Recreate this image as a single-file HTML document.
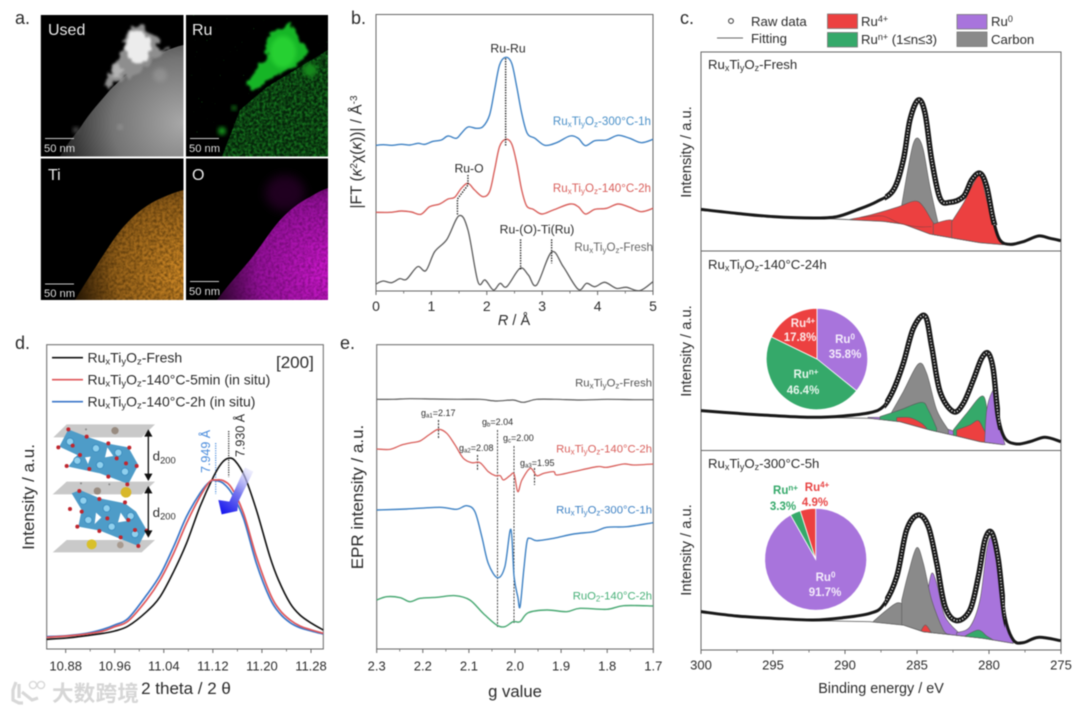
<!DOCTYPE html>
<html lang="en">
<head>
<meta charset="utf-8">
<title>Ru-Ti oxide characterization figure</title>
<style>
html,body{margin:0;padding:0;background:#fff;width:1080px;height:713px;overflow:hidden}
svg{display:block;filter:blur(0.45px)}
text{font-family:"Liberation Sans","Noto Sans CJK SC",sans-serif;fill:#2b2b2b}
</style>
</head>
<body>
<svg id="fig" xmlns="http://www.w3.org/2000/svg" width="1080" height="713" viewBox="0 0 1080 713">
<defs>
  <filter id="soft" x="-30%" y="-30%" width="160%" height="160%"><feGaussianBlur stdDeviation="2"/></filter>
  <filter id="soft2" x="-30%" y="-30%" width="160%" height="160%"><feGaussianBlur stdDeviation="5"/></filter>
  <filter id="rough" x="-30%" y="-30%" width="160%" height="160%">
    <feTurbulence type="fractalNoise" baseFrequency="0.14" numOctaves="2" seed="7" result="t"/>
    <feDisplacementMap in="SourceGraphic" in2="t" scale="11" xChannelSelector="R" yChannelSelector="G"/>
    <feGaussianBlur stdDeviation="1.1"/>
  </filter>
  <filter id="greyNoise" x="0" y="0" width="100%" height="100%">
    <feTurbulence type="fractalNoise" baseFrequency="0.35" numOctaves="2" seed="4"/>
    <feColorMatrix values="0 0 0 0 0  0 0 0 0 0  0 0 0 0 0  1.8 0 0 0 -0.6"/>
    <feComposite in="SourceGraphic" operator="in"/>
  </filter>
  <filter id="sparse" x="0" y="0" width="100%" height="100%">
    <feTurbulence type="fractalNoise" baseFrequency="0.6" numOctaves="1" seed="9"/>
    <feColorMatrix values="0 0 0 0 0  0 0 0 0 0  0 0 0 0 0  9 0 0 0 -6.7"/>
    <feComposite in="SourceGraphic" operator="in"/>
  </filter>
  <radialGradient id="hadf" cx="1" cy="0.7" r="1.05"><stop offset="0" stop-color="#a8a8a8"/><stop offset="0.55" stop-color="#747474"/><stop offset="1" stop-color="#1c1c1c"/></radialGradient>
  <radialGradient id="tiGrad" cx="1" cy="0.75" r="1.05"><stop offset="0" stop-color="#d08a26"/><stop offset="0.6" stop-color="#96621a"/><stop offset="1" stop-color="#1c1003"/></radialGradient>
  <radialGradient id="oGrad" cx="1" cy="0.75" r="1.05"><stop offset="0" stop-color="#cc18cc"/><stop offset="0.6" stop-color="#94119a"/><stop offset="1" stop-color="#200420"/></radialGradient>
  <linearGradient id="arrowGrad" x1="0.8" y1="0" x2="0.2" y2="1"><stop offset="0" stop-color="#dcdcfa" stop-opacity="0.5"/><stop offset="0.5" stop-color="#7878ee"/><stop offset="1" stop-color="#1a1aee"/></linearGradient>
  <clipPath id="clipUsed"><rect x="40.7" y="15" width="142.8" height="141.5"/></clipPath>
  <clipPath id="clipRu"><rect x="186" y="15" width="142" height="141.5"/></clipPath>
  <clipPath id="clipTi"><rect x="40.7" y="158.5" width="142.8" height="141.5"/></clipPath>
  <clipPath id="clipO"><rect x="186" y="158.5" width="142" height="141.5"/></clipPath>
  <clipPath id="peakZone1"><rect x="885" y="90" width="115" height="135"/></clipPath>
  <clipPath id="peakZone2"><rect x="885" y="305" width="115" height="125"/></clipPath>
  <clipPath id="peakZone3"><rect x="885" y="505" width="120" height="125"/></clipPath>
</defs>
<rect x="0" y="0" width="1080" height="713" fill="#fff"/>

<!-- PANEL A -->
<g>
  <text x="15" y="24" font-size="18">a.</text>
  <g clip-path="url(#clipUsed)">
    <rect x="40.7" y="15" width="142.8" height="141.5" fill="#000"/>
    <path d="M60,156.5 C68,142 75,135 80,128 C90,112 100,102 110,90 C122,78 132,70 143,63 C158,54 170,48 183.5,45 L183.5,156.5 Z" fill="url(#hadf)"/>
    <circle cx="120" cy="127" r="2.5" fill="#b8b8b8" filter="url(#soft)" opacity="0.5"/>
    <circle cx="160" cy="75" r="7" fill="#b0b0b0" filter="url(#soft)" opacity="0.35"/>
    <path d="M105,86 L112,65 L122,52 L123,35 L140,24 L156,36 L160,50 L168,50 L150,65 L125,80 Z" fill="#8e8e8e" filter="url(#rough)"/>
    <ellipse cx="138" cy="47" rx="13" ry="16" fill="#ececec" filter="url(#rough)"/>
    <circle cx="118" cy="72" r="6" fill="#b4b4b4" filter="url(#rough)"/>
    <circle cx="76" cy="130" r="3" fill="#555" filter="url(#soft)"/>
  </g>
  <g clip-path="url(#clipRu)">
    <rect x="186" y="15" width="142" height="141.5" fill="#000"/>
    <rect x="186" y="15" width="142" height="141.5" fill="#1a9624" filter="url(#sparse)"/>
    <path d="M222,156.5 L240,110 L267,87 L300,67 L328,50 L328,156.5 Z" fill="#06240a"/>
    <path d="M222,156.5 L240,110 L267,87 L300,67 L328,50 L328,156.5 Z" fill="#1a8a24" filter="url(#greyNoise)"/>
    <path d="M248,87 L253,72 L267,57 L267,37 L290,23 L300,43 L310,50 L300,63 L277,75 L257,88 Z" fill="#19b525" filter="url(#rough)"/>
    <ellipse cx="283" cy="52" rx="13" ry="16" fill="#28d033" filter="url(#soft)"/>
    <circle cx="310" cy="70" r="7" fill="#148a1c" filter="url(#soft)"/>
    <circle cx="222" cy="131" r="4" fill="#129a1c" filter="url(#soft)"/>
    <circle cx="234" cy="108" r="2.5" fill="#148a1c" filter="url(#soft)"/>
  </g>
  <g clip-path="url(#clipTi)">
    <rect x="40.7" y="158.5" width="142.8" height="141.5" fill="#000"/>
    <path d="M75,300 C84,285 92,273 100,260 C110,245 118,232 127,223 C137,212 147,205 157,200 C166,196 175,192 183.5,190 L183.5,300 Z" fill="url(#tiGrad)"/>
    <path d="M75,300 C84,285 92,273 100,260 C110,245 118,232 127,223 C137,212 147,205 157,200 C166,196 175,192 183.5,190 L183.5,300 Z" fill="#2c1a04" filter="url(#greyNoise)" opacity="0.6"/>
  </g>
  <g clip-path="url(#clipO)">
    <rect x="186" y="158.5" width="142" height="141.5" fill="#000"/>
    <ellipse cx="285" cy="193" rx="20" ry="18" fill="#3a063a" filter="url(#soft2)" opacity="0.55"/>
    <path d="M217,300 C228,285 240,272 250,260 C262,245 272,228 283,217 C292,208 300,202 310,197 C316,193 322,190 328,188 L328,300 Z" fill="url(#oGrad)"/>
    <path d="M217,300 C228,285 240,272 250,260 C262,245 272,228 283,217 C292,208 300,202 310,197 C316,193 322,190 328,188 L328,300 Z" fill="#40063f" filter="url(#greyNoise)" opacity="0.5"/>
  </g>
  <g font-size="16">
    <text x="48" y="35" style="fill:#e8e8e8">Used</text>
    <text x="192" y="35" style="fill:#e8e8e8">Ru</text>
    <text x="48" y="180" style="fill:#e8e8e8">Ti</text>
    <text x="192" y="180" style="fill:#e8e8e8">O</text>
  </g>
  <g stroke="#c8c8c8" stroke-width="0.9">
    <line x1="45" x2="74" y1="138.5" y2="138.5"/>
    <line x1="190" x2="219" y1="138.5" y2="138.5"/>
    <line x1="45" x2="74" y1="284" y2="284"/>
    <line x1="190" x2="219" y1="281.5" y2="281.5"/>
  </g>
  <g font-size="11.2">
    <text x="44" y="152" style="fill:#ddd">50 nm</text>
    <text x="189" y="152" style="fill:#ddd">50 nm</text>
    <text x="44" y="297" style="fill:#ddd">50 nm</text>
    <text x="189" y="295" style="fill:#ddd">50 nm</text>
  </g>
</g>

<!-- PANEL B -->
<g id="panelB">
  <text x="351" y="24" font-size="18">b.</text>
  <rect x="376" y="14.5" width="277" height="276.5" fill="none" stroke="#666" stroke-width="1"/>
  <text transform="translate(361.5,152) rotate(-90)" text-anchor="middle" font-size="15.5">|FT (<tspan font-style="italic">κ</tspan><tspan dy="-4.5" font-size="10">2</tspan><tspan dy="4.5">χ(</tspan><tspan font-style="italic">κ</tspan>))| / Å<tspan dy="-4.5" font-size="10">-3</tspan></text>
  <text x="514" y="325" text-anchor="middle" font-size="14.5"><tspan font-style="italic">R</tspan> / Å</text>
  <g font-size="12.2" text-anchor="middle">
    <text x="508" y="52.5">Ru-Ru</text>
    <text x="469" y="172.5">Ru-O</text>
    <text x="537" y="233.5">Ru-(O)-Ti(Ru)</text>
  </g>
  <g font-size="11.6" text-anchor="end">
    <text x="651" y="125" style="fill:#4a90c8">Ru<tspan dy="2" font-size="8">x</tspan><tspan dy="-2">Ti</tspan><tspan dy="2" font-size="8">y</tspan><tspan dy="-2">O</tspan><tspan dy="2" font-size="8">z</tspan><tspan dy="-2">-300°C-1h</tspan></text>
    <text x="651" y="192" style="fill:#d9605c">Ru<tspan dy="2" font-size="8">x</tspan><tspan dy="-2">Ti</tspan><tspan dy="2" font-size="8">y</tspan><tspan dy="-2">O</tspan><tspan dy="2" font-size="8">z</tspan><tspan dy="-2">-140°C-2h</tspan></text>
    <text x="653" y="251" style="fill:#666">Ru<tspan dy="2" font-size="8">x</tspan><tspan dy="-2">Ti</tspan><tspan dy="2" font-size="8">y</tspan><tspan dy="-2">O</tspan><tspan dy="2" font-size="8">z</tspan><tspan dy="-2">-Fresh</tspan></text>
  </g>
</g>

<!-- PANEL C -->
<g id="panelC">
  <text x="680" y="24" font-size="18">c.</text>
  <g font-size="13.2">
    <circle cx="731" cy="21" r="2.4" fill="none" stroke="#333" stroke-width="1"/>
    <text x="751" y="26">Raw data</text>
    <line x1="717" x2="743" y1="38" y2="38" stroke="#666" stroke-width="1.1"/>
    <text x="751" y="43">Fitting</text>
    <rect x="827.5" y="14" width="30" height="14.5" fill="#ec4040" stroke="#777" stroke-width="0.8"/>
    <text x="861" y="26">Ru<tspan dy="-4" font-size="9">4+</tspan></text>
    <rect x="827.5" y="32.5" width="30" height="14.5" fill="#35a96a" stroke="#777" stroke-width="0.8"/>
    <text x="861" y="44">Ru<tspan dy="-4" font-size="9">n+</tspan><tspan dy="4"> (1≤n≤3)</tspan></text>
    <rect x="957" y="14.5" width="30" height="14.5" fill="#a874dc" stroke="#777" stroke-width="0.8"/>
    <text x="991" y="26">Ru<tspan dy="-4" font-size="9">0</tspan></text>
    <rect x="957" y="32" width="30" height="14.5" fill="#8a8a8a" stroke="#777" stroke-width="0.8"/>
    <text x="991" y="44">Carbon</text>
  </g>
  <rect x="701" y="52" width="360" height="598" fill="none" stroke="#666" stroke-width="1"/>
  <line x1="701" x2="1061" y1="251" y2="251" stroke="#666" stroke-width="1"/>
  <line x1="701" x2="1061" y1="450.5" y2="450.5" stroke="#666" stroke-width="1"/>
  <g font-size="13.2">
    <text x="708" y="69">Ru<tspan dy="2" font-size="9">x</tspan><tspan dy="-2">Ti</tspan><tspan dy="2" font-size="9">y</tspan><tspan dy="-2">O</tspan><tspan dy="2" font-size="9">z</tspan><tspan dy="-2">-Fresh</tspan></text>
    <text x="708" y="269">Ru<tspan dy="2" font-size="9">x</tspan><tspan dy="-2">Ti</tspan><tspan dy="2" font-size="9">y</tspan><tspan dy="-2">O</tspan><tspan dy="2" font-size="9">z</tspan><tspan dy="-2">-140°C-24h</tspan></text>
    <text x="708" y="468">Ru<tspan dy="2" font-size="9">x</tspan><tspan dy="-2">Ti</tspan><tspan dy="2" font-size="9">y</tspan><tspan dy="-2">O</tspan><tspan dy="2" font-size="9">z</tspan><tspan dy="-2">-300°C-5h</tspan></text>
  </g>
  <g font-size="14.7" text-anchor="middle">
    <text transform="translate(691,152) rotate(-90)">Intensity / a.u.</text>
    <text transform="translate(691,351) rotate(-90)">Intensity / a.u.</text>
    <text transform="translate(691,550) rotate(-90)">Intensity / a.u.</text>
  </g>
  <text x="881" y="693" text-anchor="middle" font-size="14.4">Binding energy / eV</text>
</g>
<g id="pieLayer"></g>
<g font-size="11.5" font-weight="bold" text-anchor="middle">
  <text x="803" y="327" style="fill:#fde8e8">Ru<tspan dy="-3.5" font-size="8">4+</tspan></text>
  <text x="800" y="341" style="fill:#fde8e8">17.8%</text>
  <text x="845" y="343" style="fill:#f4ecfb">Ru<tspan dy="-3.5" font-size="8">0</tspan></text>
  <text x="845" y="358" style="fill:#f4ecfb">35.8%</text>
  <text x="806" y="378" style="fill:#e6f6ec">Ru<tspan dy="-3.5" font-size="8">n+</tspan></text>
  <text x="803" y="394" style="fill:#e6f6ec">46.4%</text>
  <text x="785.5" y="494" style="fill:#35a96a">Ru<tspan dy="-3.5" font-size="8">n+</tspan></text>
  <text x="783" y="510" style="fill:#35a96a">3.3%</text>
  <text x="817" y="491" style="fill:#e84444">Ru<tspan dy="-3.5" font-size="8">4+</tspan></text>
  <text x="815" y="506" style="fill:#e84444">4.9%</text>
  <text x="825.5" y="581" style="fill:#f4ecfb">Ru<tspan dy="-3.5" font-size="8">0</tspan></text>
  <text x="825" y="596" style="fill:#f4ecfb">91.7%</text>
</g>

<!-- PANEL D -->
<g id="panelD">
  <text x="15" y="349" font-size="18">d.</text>
  <rect x="46.7" y="344.7" width="276.6" height="304.3" fill="none" stroke="#666" stroke-width="1"/>
  <g font-size="14">
    <line x1="52" x2="83" y1="357.7" y2="357.7" stroke="#111" stroke-width="1.6"/>
    <text x="87.5" y="362.5">Ru<tspan dy="2" font-size="9.5">x</tspan><tspan dy="-2">Ti</tspan><tspan dy="2" font-size="9.5">y</tspan><tspan dy="-2">O</tspan><tspan dy="2" font-size="9.5">z</tspan><tspan dy="-2">-Fresh</tspan></text>
    <line x1="52" x2="83" y1="379.7" y2="379.7" stroke="#e0565a" stroke-width="1.6"/>
    <text x="87.5" y="384.5">Ru<tspan dy="2" font-size="9.5">x</tspan><tspan dy="-2">Ti</tspan><tspan dy="2" font-size="9.5">y</tspan><tspan dy="-2">O</tspan><tspan dy="2" font-size="9.5">z</tspan><tspan dy="-2">-140°C-5min (in situ)</tspan></text>
    <line x1="52" x2="83" y1="401.7" y2="401.7" stroke="#3a76c8" stroke-width="1.6"/>
    <text x="87.5" y="406.5">Ru<tspan dy="2" font-size="9.5">x</tspan><tspan dy="-2">Ti</tspan><tspan dy="2" font-size="9.5">y</tspan><tspan dy="-2">O</tspan><tspan dy="2" font-size="9.5">z</tspan><tspan dy="-2">-140°C-2h (in situ)</tspan></text>
  </g>
  <text x="276" y="368" font-size="17">[200]</text>
  <text transform="translate(34,497) rotate(-90)" text-anchor="middle" font-size="17">Intensity / a.u.</text>
  <text x="186" y="694" text-anchor="middle" font-size="17">2 theta / 2 θ</text>
  <!-- crystal inset -->
  <g transform="translate(0,330) scale(0.33333)">
    <polygon points="160,322 200,283 465,283 425,322" fill="#c9c9c9"/>
    <polygon points="158,493 200,455 465,455 425,493" fill="#c9c9c9"/>
    <polygon points="158,667 200,630 465,630 425,667" fill="#c9c9c9"/>
    <polygon points="178,350 205,298 260,320 320,340 385,352 415,405 385,462 300,430 205,410 232,375" fill="#4e9cc8"/>
    <polygon points="215,490 240,480 300,505 375,520 408,545 440,600 415,648 300,602 235,590 245,540" fill="#4e9cc8"/>
    <polygon points="255,382 272,380 264,402" fill="#fff"/>
    <polygon points="322,352 340,378 315,382" fill="#fff"/>
    <polygon points="288,548 304,562 284,582" fill="#fff"/>
    <polygon points="362,548 380,573 354,577" fill="#fff"/>
    <g fill="#8fd0ee" stroke="#3f8fc0" stroke-width="3">
      <circle cx="210" cy="335" r="11"/><circle cx="288" cy="355" r="11"/><circle cx="355" cy="368" r="11"/><circle cx="232" cy="392" r="11"/><circle cx="300" cy="405" r="11"/><circle cx="375" cy="425" r="11"/>
      <circle cx="250" cy="512" r="11"/><circle cx="320" cy="535" r="11"/><circle cx="392" cy="558" r="11"/><circle cx="265" cy="570" r="11"/><circle cx="335" cy="590" r="11"/><circle cx="405" cy="612" r="11"/>
    </g>
    <g fill="#c0262e">
      <circle cx="205" cy="298" r="6"/><circle cx="175" cy="352" r="6"/><circle cx="260" cy="320" r="6"/><circle cx="325" cy="340" r="6"/><circle cx="218" cy="347" r="6"/><circle cx="388" cy="353" r="6"/><circle cx="240" cy="375" r="6"/><circle cx="350" cy="385" r="6"/><circle cx="200" cy="408" r="6"/><circle cx="268" cy="417" r="6"/><circle cx="325" cy="440" r="6"/><circle cx="378" cy="400" r="6"/><circle cx="410" cy="408" r="6"/><circle cx="382" cy="463" r="6"/>
      <circle cx="238" cy="483" r="6"/><circle cx="298" cy="507" r="6"/><circle cx="210" cy="537" r="6"/><circle cx="375" cy="517" r="6"/><circle cx="245" cy="545" r="6"/><circle cx="322" cy="565" r="6"/><circle cx="385" cy="570" r="6"/><circle cx="232" cy="590" r="6"/><circle cx="298" cy="603" r="6"/><circle cx="405" cy="600" r="6"/><circle cx="362" cy="622" r="6"/><circle cx="440" cy="602" r="6"/><circle cx="415" cy="648" r="6"/>
    </g>
    <g>
      <circle cx="378" cy="487" r="16" fill="#d8b82a"/><circle cx="275" cy="643" r="15" fill="#d8c02a"/>
      <circle cx="345" cy="302" r="11" fill="#988b80"/><circle cx="292" cy="483" r="11" fill="#988b80"/><circle cx="361" cy="645" r="10" fill="#a89b90"/>
      <circle cx="258" cy="298" r="3" fill="#888"/><circle cx="243" cy="460" r="3" fill="#888"/><circle cx="328" cy="463" r="3" fill="#888"/>
    </g>
    <g stroke="#111" stroke-width="4" fill="#111">
      <line x1="445" x2="445" y1="312" y2="440"/>
      <polygon points="445,302 436,318 454,318"/><polygon points="445,449 436,433 454,433"/>
      <line x1="445" x2="445" y1="482" y2="610"/>
      <polygon points="445,472 436,488 454,488"/><polygon points="445,619 436,603 454,603"/>
    </g>
    <text x="458" y="392" font-size="40">d<tspan dy="8" font-size="28">200</tspan></text>
    <text x="458" y="561" font-size="40">d<tspan dy="8" font-size="28">200</tspan></text>
  </g>
  <text transform="translate(210,473) rotate(-90)" font-size="12.5" style="fill:#4a8cdc">7.949 Å</text>
  <text transform="translate(244.5,457) rotate(-90)" font-size="12.5">7.930 Å</text>
  <line x1="215.7" x2="215.7" y1="443" y2="494" stroke="#4a8cdc" stroke-width="1.2" stroke-dasharray="1.2 1.2"/>
  <line x1="228.7" x2="228.7" y1="431" y2="477" stroke="#222" stroke-width="1.2" stroke-dasharray="1.2 1.2"/>
</g>
<polygon transform="translate(0,330) scale(0.33333)" points="735,412 760,425 715,515 712,543 665,553 655,510 688,515" fill="url(#arrowGrad)"/>

<!-- PANEL E -->
<g id="panelE">
  <text x="340" y="349" font-size="18">e.</text>
  <rect x="376.7" y="344.7" width="276.6" height="304.3" fill="none" stroke="#666" stroke-width="1"/>
  <text transform="translate(363,497) rotate(-90)" text-anchor="middle" font-size="17">EPR intensity / a.u.</text>
  <text x="515" y="697" text-anchor="middle" font-size="16.7">g value</text>
  <g font-size="11.3" text-anchor="end">
    <text x="652" y="386.5" style="fill:#555">Ru<tspan dy="2" font-size="8">x</tspan><tspan dy="-2">Ti</tspan><tspan dy="2" font-size="8">y</tspan><tspan dy="-2">O</tspan><tspan dy="2" font-size="8">z</tspan><tspan dy="-2">-Fresh</tspan></text>
    <text x="652" y="452.5" style="fill:#d9605c">Ru<tspan dy="2" font-size="8">x</tspan><tspan dy="-2">Ti</tspan><tspan dy="2" font-size="8">y</tspan><tspan dy="-2">O</tspan><tspan dy="2" font-size="8">z</tspan><tspan dy="-2">-140°C-2h</tspan></text>
    <text x="652" y="513.5" style="fill:#3f82c4">Ru<tspan dy="2" font-size="8">x</tspan><tspan dy="-2">Ti</tspan><tspan dy="2" font-size="8">y</tspan><tspan dy="-2">O</tspan><tspan dy="2" font-size="8">z</tspan><tspan dy="-2">-300°C-1h</tspan></text>
    <text x="652" y="599.5" style="fill:#48b078">RuO<tspan dy="2" font-size="8">2</tspan><tspan dy="-2">-140°C-2h</tspan></text>
  </g>
  <g font-size="9">
    <text x="421" y="416">g<tspan dy="1.5" font-size="6">a1</tspan><tspan dy="-1.5">=2.17</tspan></text>
    <text x="459" y="451">g<tspan dy="1.5" font-size="6">a2</tspan><tspan dy="-1.5">=2.08</tspan></text>
    <text x="482" y="425">g<tspan dy="1.5" font-size="6">b</tspan><tspan dy="-1.5">=2.04</tspan></text>
    <text x="503" y="441">g<tspan dy="1.5" font-size="6">c</tspan><tspan dy="-1.5">=2.00</tspan></text>
    <text x="520" y="466">g<tspan dy="1.5" font-size="6">a3</tspan><tspan dy="-1.5">=1.95</tspan></text>
  </g>
  <g stroke="#333" stroke-width="0.9" stroke-dasharray="2 1.2">
    <line x1="438.5" x2="438.5" y1="420" y2="439" stroke-width="1.1"/>
    <line x1="477.5" x2="477.5" y1="455" y2="471" stroke-width="1.1"/>
    <line x1="497.5" x2="497.5" y1="430" y2="627"/>
    <line x1="514" x2="514" y1="446" y2="623"/>
    <line x1="534.5" x2="534.5" y1="468" y2="485" stroke-width="1.1"/>
  </g>
</g>

<!-- WATERMARK -->
<g opacity="0.9">
  <path d="M16,682 L13,690 L13,700 L19,703 L23,703 M19,684 L19,698 M22,692 L32,700 L38,698" fill="none" stroke="#d4d4d4" stroke-width="3.2"/>
  <circle cx="33" cy="685" r="3.6" fill="none" stroke="#d4d4d4" stroke-width="1.4"/>
  <circle cx="41" cy="685" r="3.6" fill="none" stroke="#d4d4d4" stroke-width="1.4"/>
  <text x="52" y="701" font-size="21.5" letter-spacing="0.3" font-weight="bold" style="fill:#d2d2d2;font-family:'Liberation Sans','Noto Sans CJK SC',sans-serif">大数跨境</text>
</g>
</svg>

<script>
// ---------- Panel b: EXAFS data ----------
const bTickLabels = ['0', '1', '2', '3', '4', '5'];
const bBlueR = [0,.13,.28,.46,.61,.76,.88,1.03,1.18,1.30,1.45,1.54,1.66,1.81,1.93,2.05,2.14,2.23,2.34,2.45,2.54,2.63,2.73,2.87,3.05,3.26,3.50,3.65,3.78,3.95,4.16,4.37,4.58,4.79,5];
const bBlueI = [437,439,437,440,438,443,440,449,453,465,458,473,492,488,493,528,603,678,701,683,613,533,473,458,437,445,465,458,436,451,453,467,458,445,455];
const bRedR = [0,.25,.46,.64,.81,.97,1.15,1.30,1.42,1.54,1.66,1.78,1.93,2.05,2.14,2.23,2.34,2.45,2.54,2.63,2.72,2.84,2.99,3.20,3.50,3.65,3.78,3.95,4.16,4.37,4.58,4.79,5];
const bRedI = [236,236,240,237,230,253,261,276,281,308,323,303,283,298,363,433,455,441,383,303,255,245,231,243,261,253,231,245,248,261,251,238,248];
const bGrayR = [0,.13,.28,.43,.55,.75,.90,1.06,1.28,1.5,1.66,1.84,1.97,2.12,2.24,2.36,2.6,2.75,2.9,3.17,3.38,3.65,3.8,3.95,4.13,4.34,4.52,4.76,5];
const bGrayI = [21,30,25,37,35,73,61,118,155,226,183,28,33,3,23,13,68,48,18,117,73,5,23,13,26,8,11,1,28];
const bGuideRuRuR = [2.34, 2.34];
const bGuideRuRuI = [698, 433];
const bGuideRuOR = [1.66, 1.66, 1.47, 1.47];
const bGuideRuOI = [348, 318, 276, 228];
const bGuideMid1R = [2.61, 2.61];
const bGuideMid1I = [155, 65];
const bGuideMid2R = [3.17, 3.17];
const bGuideMid2I = [155, 83];

// ---------- Panel c: XPS data ----------
const cTickLabels = ['300', '295', '290', '285', '280', '275'];
const c1RawBE = [300,297.52,294.98,292.2,290.58,289.19,287.8,286.64,285.95,285.49,284.91,284.44,283.98,283.4,282.71,281.78,281.2,280.62,280.16,279.7,279.24,278.54,277.62,276.57,275.76,275.02];
const c1RawI = [122,110,100,96,100,120,145,180,270,390,450,410,270,155,143,160,210,230,190,90,30,17,25,42,35,28];
const c1BaseBE = [292.2,289.19,287.34,285.95,284.1,282.25,280.62,279];
const c1BaseI = [96,90,86,78,48,34,22,16];
const c1CarbonBE = [286.06,285.6,285.25,284.91,284.56,284.1,283.52];
const c1CarbonI = [135,250,320,335,300,190,78];
const c1Red1BE = [289.65,288.26,286.41,285.14,284.56,283.87,283.2];
const c1Red1I = [92,105,128,147,130,82,50];
const c1Red3BE = [283.87,282.82,282.25,281.67,280.86];
const c1Red3I = [78,90,82,50,25];
const c1Red4BE = [282.59,281.78,281.2,280.62,280.16,279.58,279];
const c1Red4I = [85,140,190,223,150,60,17];
const c1SubBE = [288.9,287.4,286.2,285,284];
const c1SubI = [98,102,80,70,70];

const c2RawBE = [300,297.52,294.98,292.2,290.12,288.26,287.34,286.64,285.95,285.25,284.44,283.98,283.4,282.48,281.78,281.09,280.51,280.05,279.7,279.35,278.89,278.08,277.15,276.11,275.02];
const c2RawI = [119,111,104,99,103,113,131,181,261,366,403,311,176,116,141,211,276,291,241,101,36,19,26,39,26];
const c2BaseBE = [292.2,288.26,286.18,284.1,282.25,280.62,279];
const c2BaseI = [99,96,86,61,43,26,17];
const c2CarbonBE = [286.87,285.95,284.91,284.33,283.63,282.82];
const c2CarbonI = [106,176,259,231,121,61];
const c2Green1BE = [287.57,286.18,284.68,284.21,283.63];
const c2Green1I = [101,121,144,121,66];
const c2Red1BE = [286.41,285.49,284.68,284.33];
const c2Red1I = [98,98,81,66];
const c2Purple1BE = [288.4,286.8,284.1,282.94,282.01];
const c2Purple1I = [99,96,68,64,49];
const c2Green2BE = [282.48,281.55,280.44,280.05,279.58];
const c2Green2I = [61,111,163,101,26];
const c2Red2BE = [282.25,281.32,280.74,280.28,279.7];
const c2Red2I = [61,76,89,56,21];
const c2Purple2BE = [280.3,280.16,279.81,279.58,279.35,278.89];
const c2Purple2I = [30,121,173,171,91,18];

const c3RawBE = [300,297.52,294.98,292.2,290.12,288.26,287.34,286.41,285.72,284.91,284.21,283.63,283.05,282.25,281.32,280.74,280.28,279.81,279.35,278.89,278.31,277.62,276.57,275.02];
const c3RawI = [115,102,95,90,97,110,135,220,360,405,370,260,130,88,120,220,330,352,270,100,30,22,38,28];
const c3BaseBE = [292.2,288.26,285.95,284.56,282.25,280.39,278.31];
const c3BaseI = [88,85,75,55,44,35,20];
const c3CarbonABE = [288.03,287.1,286.29,285.6,284.56];
const c3CarbonAI = [86,120,142,120,60];
const c3CarbonBBE = [286.06,285.6,285.02,284.56,283.98,283.17,282.71];
const c3CarbonBI = [150,230,307,260,150,60,47];
const c3Purple1BE = [284.6,284.28,283.98,283.63,283.05,282.01];
const c3Purple1I = [100,170,230,200,100,48];
const c3Purple2BE = [282.25,281.32,280.63,280.16,279.81,279.35,278.89,278.31];
const c3Purple2I = [52,70,150,300,335,250,100,22];
const c3GreenBE = [281.67,280.74,280.16,279.7];
const c3GreenI = [42,60,42,30];
const c3RedBE = [284.7,284.4,284];
const c3RedI = [60,75,52];

// ---------- Pie data ----------
const pie1Labels = ['Ru0', 'Run+', 'Ru4+'];
const pie1Values = [35.8, 46.4, 17.8];
const pie2Labels = ['Ru0', 'Run+', 'Ru4+'];
const pie2Values = [91.7, 3.3, 4.9];

// ---------- Panel d: XRD data ----------
const dTickLabels = ['10.88', '10.96', '11.04', '11.12', '11.20', '11.28'];
const dFreshT = [10.849,10.882,10.914,10.941,10.96,10.982,11.012,11.034,11.056,11.077,11.099,11.121,11.134,11.145,11.156,11.172,11.191,11.213,11.227,11.246,11.262,11.281,11.30];
const dFreshI = [29,33,40,47,54,69,112,157,232,317,427,517,557,572,565,517,417,277,207,137,102,77,57];
const dInSituT = [10.849,10.882,10.914,10.941,10.96,10.982,11.012,11.034,11.056,11.077,11.099,11.115,11.126,11.137,11.151,11.17,11.191,11.213,11.229,11.246,11.262,11.281,11.30];
const d5minI = [35,39,45,54,67,84,147,207,287,377,457,502,507,505,482,407,277,167,117,87,69,57,47];
const d2hI = [37,40,47,59,72,92,162,222,307,397,467,502,505,497,467,392,257,152,107,79,64,54,45];

// ---------- Panel e: EPR data ----------
const eTickLabels = ['2.3', '2.2', '2.1', '2.0', '1.9', '1.8', '1.7'];
const eFreshG = [2.3,2.264,2.228,2.177,2.126,2.076,2.04,2.004,1.982,1.953,1.91,1.859,1.801,1.743,1.70];
const eFreshI = [749,749,751,750,749,749,744,747,740,749,749,747,749,748,748];
const eRedG = [2.3,2.271,2.246,2.224,2.206,2.184,2.166,2.148,2.13,2.112,2.094,2.076,2.058,2.043,2.032,2.025,2.011,2.002,1.994,1.985,1.967,1.953,1.938,1.916,1.909,1.873,1.822,1.801,1.764,1.743,1.70];
const eRedI = [600,599,612,619,624,645,659,647,612,572,559,559,532,520,520,507,520,525,472,507,542,520,527,532,522,532,547,545,555,552,555];
const eBlueG = [2.3,2.235,2.163,2.127,2.105,2.087,2.072,2.058,2.038,2.022,2.009,2.002,1.994,1.989,1.981,1.974,1.967,1.953,1.916,1.873,1.829,1.801,1.757,1.70];
const eBlueI = [417,420,425,419,430,412,337,257,214,247,359,217,157,127,237,322,332,325,332,345,352,365,367,379];
const eGreenG = [2.3,2.278,2.249,2.228,2.206,2.17,2.13,2.098,2.069,2.04,2.022,2.004,1.989,1.971,1.931,1.888,1.859,1.801,1.764,1.70];
const eGreenI = [147,157,154,142,152,155,160,147,107,72,67,82,82,109,117,112,122,119,130,129];

// ---------- Axis functions ----------
const NS = 'http://www.w3.org/2000/svg';
const bx = r => 376 + r * 55.4;
const by = v => 291 - v / 3;
const cx = be => 701 + (300 - be) * 14.4;
const c1y = v => 250 - v / 3;
const c2y = v => 450.3 - v / 3;
const c3y = v => 650 - v / 3;
const dx = t => 65.67 + (t - 10.88) * 613.3;
const dy = v => 649 - v / 3;
const ex = g => 376.7 + (2.3 - g) * 461;
const ey = v => 649 - v / 3;

function zip(xs, ys, fx, fy) {
  return xs.map((x, i) => [fx(x), fy(ys[i])]);
}
function smooth(p) {
  let d = 'M' + p[0][0].toFixed(2) + ',' + p[0][1].toFixed(2);
  for (let i = 0; i < p.length - 1; i++) {
    const a = p[Math.max(i - 1, 0)], b = p[i], c = p[i + 1], e = p[Math.min(i + 2, p.length - 1)];
    const c1x = b[0] + (c[0] - a[0]) / 6, c1y_ = b[1] + (c[1] - a[1]) / 6;
    const c2x = c[0] - (e[0] - b[0]) / 6, c2y_ = c[1] - (e[1] - b[1]) / 6;
    d += 'C' + c1x.toFixed(2) + ',' + c1y_.toFixed(2) + ' ' + c2x.toFixed(2) + ',' + c2y_.toFixed(2) + ' ' + c[0].toFixed(2) + ',' + c[1].toFixed(2);
  }
  return d;
}
function addPath(parent, d, name, attrs) {
  const el = document.createElementNS(NS, 'path');
  el.setAttribute('d', d);
  el.setAttribute('fill', 'none');
  for (const k in attrs) el.setAttribute(k, attrs[k]);
  
  
  parent.appendChild(el);
  return el;
}
function addLine(parent, x1, y1, x2, y2, name, stroke, w) {
  const el = document.createElementNS(NS, 'line');
  el.setAttribute('x1', x1);
  el.setAttribute('y1', y1);
  el.setAttribute('x2', x2);
  el.setAttribute('y2', y2);
  el.setAttribute('stroke', stroke);
  el.setAttribute('stroke-width', w);
  
  
  parent.appendChild(el);
}
function addTickLabel(parent, x, y, str, size, name) {
  const el = document.createElementNS(NS, 'text');
  el.setAttribute('x', x);
  el.setAttribute('y', y);
  el.setAttribute('text-anchor', 'middle');
  el.setAttribute('font-size', size);
  el.textContent = str;
  
  
  parent.appendChild(el);
}
function drawTicks(parent, labels, fx, base, labelY, size, prefix) {
  labels.forEach((lab, i) => {
    const x = fx(parseFloat(lab));
    addLine(parent, x, base, x, base + 4, prefix + '-tick-' + lab, '#666', 1);
    addTickLabel(parent, x, labelY, lab, size, prefix + '-tick-label-' + lab);
    if (i < labels.length - 1) {
      const m = fx((parseFloat(lab) + parseFloat(labels[i + 1])) / 2);
      addLine(parent, m, base, m, base + 2.5, prefix + '-minor-tick-' + i, '#666', 0.8);
    }
  });
}
function baseAt(be, bes, is) {
  if (be >= bes[0]) return is[0];
  for (let i = 0; i < bes.length - 1; i++) {
    if (be <= bes[i] && be >= bes[i + 1]) {
      const f = (bes[i] - be) / (bes[i] - bes[i + 1]);
      return is[i] + f * (is[i + 1] - is[i]);
    }
  }
  return is[is.length - 1];
}
function addArea(parent, bes, is, baseBE, baseI, fy, fill, name) {
  const top = zip(bes, is, cx, fy);
  let d = smooth(top);
  const hi = bes[0], lo = bes[bes.length - 1];
  d += 'L' + cx(lo).toFixed(2) + ',' + fy(baseAt(lo, baseBE, baseI)).toFixed(2);
  for (let i = baseBE.length - 1; i >= 0; i--) {
    if (baseBE[i] > lo && baseBE[i] < hi) {
      d += 'L' + cx(baseBE[i]).toFixed(2) + ',' + fy(baseI[i]).toFixed(2);
    }
  }
  d += 'L' + cx(hi).toFixed(2) + ',' + fy(baseAt(hi, baseBE, baseI)).toFixed(2) + 'Z';
  addPath(parent, d, name, { fill: fill, stroke: '#5a5a5a', 'stroke-width': 0.6 });
}
function addBaseline(parent, bes, is, fy, name) {
  const d = zip(bes, is, cx, fy).map((p, i) => (i ? 'L' : 'M') + p[0].toFixed(2) + ',' + p[1].toFixed(2)).join('');
  addPath(parent, d, name, { stroke: '#6a6a6a', 'stroke-width': 0.9 });
}
function addRaw(parent, bes, is, fy, clipId, name) {
  const d = smooth(zip(bes, is, cx, fy));
  addPath(parent, d, name, { stroke: '#181818', 'stroke-width': 3, 'stroke-linejoin': 'round' });
  const peak = document.createElementNS(NS, 'g');
  peak.setAttribute('clip-path', 'url(#' + clipId + ')');
  
  
  parent.appendChild(peak);
  addPath(peak, d, name + '-marker-outline', { stroke: '#181818', 'stroke-width': 5.4 });
  addPath(peak, d, name + '-marker-centers', { stroke: '#dcdcdc', 'stroke-width': 1.6, 'stroke-dasharray': '1.2 1.8' });
}
function addPie(parent, values, cxp, cyp, r, colors, prefix) {
  const total = values.reduce((a, b) => a + b, 0);
  let ang = 0;
  values.forEach((val, i) => {
    const a0 = ang, a1 = ang + val / total * Math.PI * 2;
    ang = a1;
    const x0 = cxp + r * Math.sin(a0), y0 = cyp - r * Math.cos(a0);
    const x1 = cxp + r * Math.sin(a1), y1 = cyp - r * Math.cos(a1);
    const big = a1 - a0 > Math.PI ? 1 : 0;
    const d = 'M' + cxp + ',' + cyp + 'L' + x0.toFixed(2) + ',' + y0.toFixed(2) + 'A' + r + ',' + r + ' 0 ' + big + ' 1 ' + x1.toFixed(2) + ',' + y1.toFixed(2) + 'Z';
    addPath(parent, d, prefix + '-slice-' + i, { fill: colors[i], stroke: '#fff', 'stroke-width': 0.8 });
  });
}

const RED = '#ec4040', GREEN = '#35a96a', PURPLE = '#a874dc', GRAY = '#8a8a8a';

// ---------- Draw panel b ----------
const gB = document.getElementById('panelB');
drawTicks(gB, bTickLabels, bx, 291, 311, 14, 'panel-b');
addPath(gB, smooth(zip(bBlueR, bBlueI, bx, by)), 'exafs-line-300c-1h', { stroke: '#3f82c4', 'stroke-width': 1.4 });
addPath(gB, smooth(zip(bRedR, bRedI, bx, by)), 'exafs-line-140c-2h', { stroke: '#d9605c', 'stroke-width': 1.4 });
addPath(gB, smooth(zip(bGrayR, bGrayI, bx, by)), 'exafs-line-fresh', { stroke: '#5c5c5c', 'stroke-width': 1.3 });
[[bGuideRuRuR, bGuideRuRuI, 'guide-ru-ru'], [bGuideRuOR, bGuideRuOI, 'guide-ru-o'], [bGuideMid1R, bGuideMid1I, 'guide-ru-o-ti-1'], [bGuideMid2R, bGuideMid2I, 'guide-ru-o-ti-2']].forEach(g => {
  const pts = zip(g[0], g[1], bx, by);
  const d = pts.map((p, i) => (i ? 'L' : 'M') + p[0].toFixed(2) + ',' + p[1].toFixed(2)).join('');
  addPath(gB, d, g[2], { stroke: '#222', 'stroke-width': 1.4, 'stroke-dasharray': '1.4 1.2' });
});

// ---------- Draw panel c ----------
const gC = document.getElementById('panelC');
drawTicks(gC, cTickLabels, cx, 650, 669.5, 13, 'panel-c');

addBaseline(gC, c1BaseBE, c1BaseI, c1y, 'fresh-baseline');
addArea(gC, c1CarbonBE, c1CarbonI, c1BaseBE, c1BaseI, c1y, GRAY, 'fresh-carbon-peak');
addArea(gC, c1Red1BE, c1Red1I, c1BaseBE, c1BaseI, c1y, RED, 'fresh-ru4-satellite');
addPath(gC, smooth(zip(c1SubBE, c1SubI, cx, c1y)), 'fresh-ru4-sub-line', { stroke: '#8a4040', 'stroke-width': 0.6 });
addArea(gC, c1Red3BE, c1Red3I, c1BaseBE, c1BaseI, c1y, RED, 'fresh-ru4-shoulder');
addArea(gC, c1Red4BE, c1Red4I, c1BaseBE, c1BaseI, c1y, RED, 'fresh-ru4-main');
addRaw(gC, c1RawBE, c1RawI, c1y, 'peakZone1', 'fresh-raw-data');

addBaseline(gC, c2BaseBE, c2BaseI, c2y, 'aged-baseline');
addArea(gC, c2Purple1BE, c2Purple1I, c2BaseBE, c2BaseI, c2y, PURPLE, 'aged-ru0-broad');
addArea(gC, c2CarbonBE, c2CarbonI, c2BaseBE, c2BaseI, c2y, GRAY, 'aged-carbon-peak');
addArea(gC, c2Green1BE, c2Green1I, c2BaseBE, c2BaseI, c2y, GREEN, 'aged-run-upper');
addArea(gC, c2Red1BE, c2Red1I, c2BaseBE, c2BaseI, c2y, RED, 'aged-ru4-upper');
addArea(gC, c2Green2BE, c2Green2I, c2BaseBE, c2BaseI, c2y, GREEN, 'aged-run-main');
addArea(gC, c2Red2BE, c2Red2I, c2BaseBE, c2BaseI, c2y, RED, 'aged-ru4-main');
addArea(gC, c2Purple2BE, c2Purple2I, c2BaseBE, c2BaseI, c2y, PURPLE, 'aged-ru0-main');
addRaw(gC, c2RawBE, c2RawI, c2y, 'peakZone2', 'aged-raw-data');

addBaseline(gC, c3BaseBE, c3BaseI, c3y, 'reduced-baseline');
addArea(gC, c3Purple1BE, c3Purple1I, c3BaseBE, c3BaseI, c3y, PURPLE, 'reduced-ru0-upper');
addArea(gC, c3CarbonABE, c3CarbonAI, c3BaseBE, c3BaseI, c3y, GRAY, 'reduced-carbon-broad');
addArea(gC, c3CarbonBBE, c3CarbonBI, c3BaseBE, c3BaseI, c3y, GRAY, 'reduced-carbon-main');
addArea(gC, c3RedBE, c3RedI, c3BaseBE, c3BaseI, c3y, RED, 'reduced-ru4-peak');
addArea(gC, c3Purple2BE, c3Purple2I, c3BaseBE, c3BaseI, c3y, PURPLE, 'reduced-ru0-main');
addArea(gC, c3GreenBE, c3GreenI, c3BaseBE, c3BaseI, c3y, GREEN, 'reduced-run-peak');
addRaw(gC, c3RawBE, c3RawI, c3y, 'peakZone3', 'reduced-raw-data');

// ---------- Draw pies ----------
const gP = document.getElementById('pieLayer');
addPie(gP, pie1Values, 817, 359, 50.7, [PURPLE, GREEN, RED], 'pie-140c');
addPie(gP, pie2Values, 815.7, 559.3, 51, [PURPLE, GREEN, RED], 'pie-300c');

// ---------- Draw panel d ----------
const gD = document.getElementById('panelD');
drawTicks(gD, dTickLabels, dx, 649, 670.5, 13, 'panel-d');
addPath(gD, smooth(zip(dFreshT, dFreshI, dx, dy)), 'xrd-line-fresh', { stroke: '#111', 'stroke-width': 1.6 });
addPath(gD, smooth(zip(dInSituT, d2hI, dx, dy)), 'xrd-line-2h', { stroke: '#3a76c8', 'stroke-width': 1.7 });
addPath(gD, smooth(zip(dInSituT, d5minI, dx, dy)), 'xrd-line-5min', { stroke: '#e0565a', 'stroke-width': 1.7 });

// ---------- Draw panel e ----------
const gE = document.getElementById('panelE');
drawTicks(gE, eTickLabels, ex, 649, 670.5, 13, 'panel-e');
addPath(gE, smooth(zip(eFreshG, eFreshI, ex, ey)), 'epr-line-fresh', { stroke: '#5c5c5c', 'stroke-width': 1.2 });
addPath(gE, smooth(zip(eRedG, eRedI, ex, ey)), 'epr-line-140c', { stroke: '#d9605c', 'stroke-width': 1.3 });
addPath(gE, smooth(zip(eBlueG, eBlueI, ex, ey)), 'epr-line-300c', { stroke: '#3f82c4', 'stroke-width': 1.4 });
addPath(gE, smooth(zip(eGreenG, eGreenI, ex, ey)), 'epr-line-ruo2', { stroke: '#48a872', 'stroke-width': 1.4 });
</script>
</body>
</html>
